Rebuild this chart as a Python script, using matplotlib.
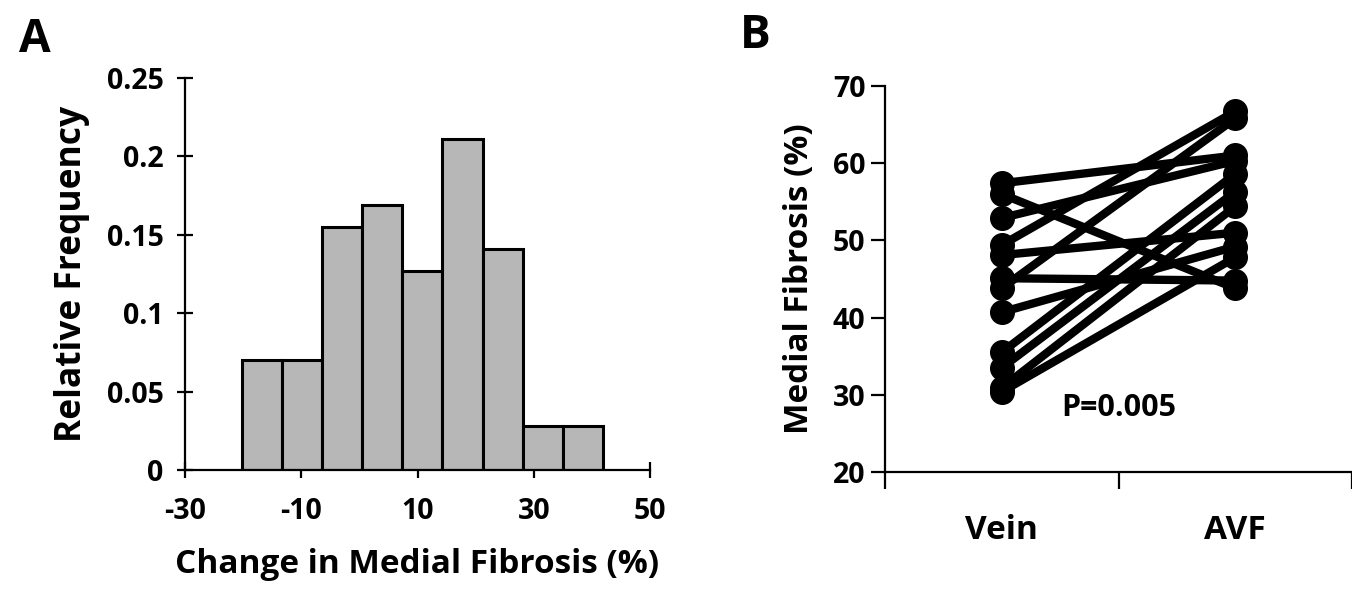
import matplotlib
matplotlib.use('Agg')
import matplotlib.pyplot as plt

# Panel A - histogram of change in medial fibrosis
bin_edges = [-20.2, -13.3, -6.4, 0.5, 7.4, 14.3, 21.2, 28.1, 35.0, 41.9]
counts = [5, 5, 11, 12, 9, 15, 10, 2, 2]
a_xticks = [-30, -10, 10, 30, 50]
a_yticks = [0, 0.05, 0.1, 0.15, 0.2, 0.25]
a_yticklabels = ['0', '0.05', '0.1', '0.15', '0.2', '0.25']

# Panel B - paired vein / AVF values
groups = ['Vein', 'AVF']
vein = [57.4, 56.0, 52.9, 49.4, 48.1, 45.1, 43.8, 40.7, 35.5, 33.5, 30.9, 30.4]
avf = [61.0, 43.8, 60.3, 66.7, 51.0, 44.8, 65.8, 49.2, 58.6, 56.3, 54.4, 47.8]
b_yticks = [20, 30, 40, 50, 60, 70]
p_text = 'P=0.005'

plt.rcParams['font.family'] = ['Open Sans', 'DejaVu Sans']
plt.rcParams['font.weight'] = 'bold'

W, H = 1352, 589
fig = plt.figure(figsize=(W / 100, H / 100), dpi=100)

# ---------------- Panel A ----------------
axA = fig.add_axes([185 / W, 1 - 470 / H, (650 - 185) / W, (470 - 78) / H])
total = sum(counts)
freq = [c / total for c in counts]
lefts = bin_edges[:-1]
widths = [bin_edges[i + 1] - bin_edges[i] for i in range(len(counts))]
axA.bar(lefts, freq, width=widths, align='edge', color='#b7b7b7',
        edgecolor='black', linewidth=2.2)
axA.set_xlim(-30, 50)
axA.set_ylim(0, 0.25)
axA.set_xticks(a_xticks)
axA.set_xticklabels([str(t) for t in a_xticks])
axA.set_yticks(a_yticks)
axA.set_yticklabels(a_yticklabels)
axA.set_axisbelow(True)
for s in ['top', 'right']:
    axA.spines[s].set_visible(False)
for s in ['left', 'bottom']:
    axA.spines[s].set_linewidth(1.6)
axA.tick_params(axis='both', direction='inout', length=11, width=1.6,
                labelsize=20.5)
axA.tick_params(axis='x', pad=14)
axA.tick_params(axis='y', pad=10)
axA.set_xlabel('Change in Medial Fibrosis (%)', fontsize=24, fontweight='bold', labelpad=16)
axA.set_ylabel('Relative Frequency', fontsize=25.5, fontweight='bold')
axA.yaxis.set_label_coords(-0.204, 0.5)
fig.text(35 / W, 1 - 40 / H, 'A', fontsize=33, fontweight='bold', ha='center', va='center')

# ---------------- Panel B ----------------
axB = fig.add_axes([885 / W, 1 - 472 / H, (W - 885) / W, (472 - 86) / H])
for v, a in zip(vein, avf):
    axB.plot([0, 1], [v, a], color='black', linewidth=6, marker='o',
             markersize=17, solid_capstyle='round', clip_on=False)
axB.set_xlim(-0.5, (W - 1005) / 240)
axB.set_ylim(20, 70)
axB.set_yticks(b_yticks)
axB.set_xticks([-0.5, 0.5, 1.5])
axB.set_xticklabels([])
axB.set_xticks([0, 1], minor=True)
axB.set_xticklabels(groups, minor=True)
axB.tick_params(axis='x', which='minor', length=0, pad=30, labelsize=24)
axB.tick_params(axis='x', which='major', direction='out', length=12, width=1.6)
axB.tick_params(axis='y', direction='out', length=10, width=1.6, labelsize=20.5, pad=4)
for s in ['top', 'right']:
    axB.spines[s].set_visible(False)
for s in ['left', 'bottom']:
    axB.spines[s].set_linewidth(1.6)
axB.set_ylabel('Medial Fibrosis (%)', fontsize=24, fontweight='bold', labelpad=12)
axB.text(0.5, 28.3, p_text, fontsize=22, fontweight='bold', ha='center', va='center')
fig.text(755 / W, 1 - 36 / H, 'B', fontsize=33, fontweight='bold', ha='center', va='center')

fig.savefig('out.png', dpi=100)
